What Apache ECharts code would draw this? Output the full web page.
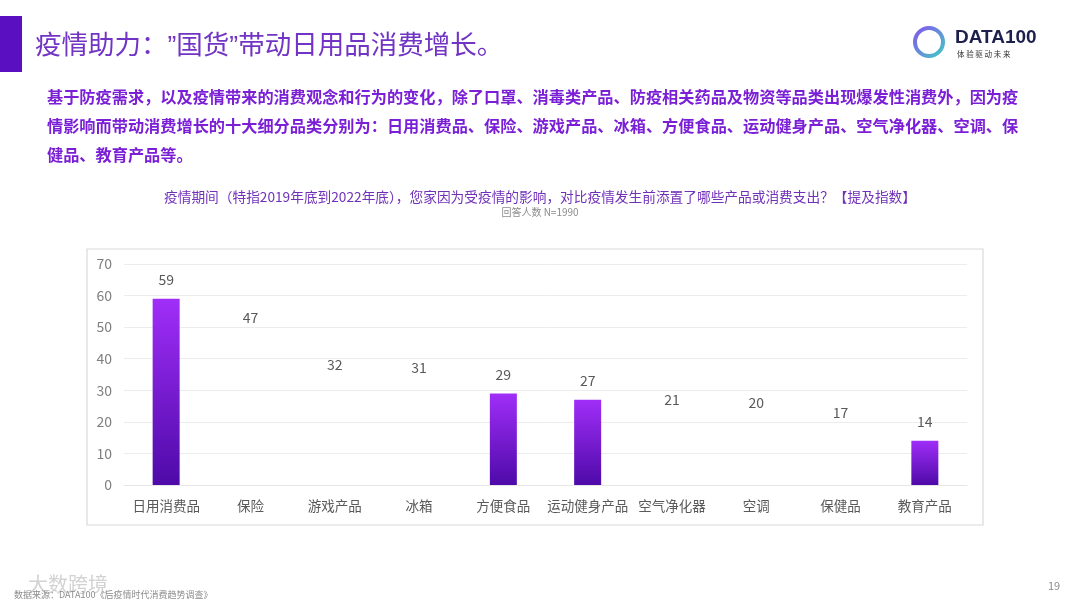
<!DOCTYPE html>
<html><head><meta charset="utf-8">
<script src="https://cdn.jsdelivr.net/npm/echarts@6/dist/echarts.min.js"></script>
<style>html,body{margin:0;padding:0;background:#fff}#c{width:1080px;height:608px}</style>
</head><body><div id="c"></div>
<script>
const categories = ['日用消费品','保险','游戏产品','冰箱','方便食品','运动健身产品','空气净化器','空调','保健品','教育产品'];
const values = [59,47,32,31,29,27,21,20,17,14];
const barShown = [true,false,false,false,true,true,false,false,false,true];
const yTicks = [0,10,20,30,40,50,60,70];

const font = '"Noto Sans CJK SC","Microsoft YaHei",sans-serif';
const chart = echarts.init(document.getElementById('c'));
const grad = new echarts.graphic.LinearGradient(0,0,0,1,[{offset:0,color:'#a02ef8'},{offset:1,color:'#4e0aa8'}]);
const line1 = '基于防疫需求，以及疫情带来的消费观念和行为的变化，除了口罩、消毒类产品、防疫相关药品及物资等品类出现爆发性消费外，因为疫';
const line2 = '情影响而带动消费增长的十大细分品类分别为：日用消费品、保险、游戏产品、冰箱、方便食品、运动健身产品、空气净化器、空调、保';
const line3 = '健品、教育产品等。';
chart.setOption({
  animation:false,
  textStyle:{fontFamily:font},
  graphic:[
    {type:'rect',shape:{x:0,y:16,width:22,height:56},style:{fill:'#5a0fc0'}},
    {type:'text',left:35,top:33,style:{text:'疫情助力：”国货”带动日用品消费增长。',font:'26.5px "Liberation Sans",'+font,fill:'#7134c4'}},
    {type:'text',left:47,top:89,style:{text:line1,font:'bold 16.2px '+font,fill:'#7a1fd6'}},
    {type:'text',left:47,top:118,style:{text:line2,font:'bold 16.2px '+font,fill:'#7a1fd6'}},
    {type:'text',left:47,top:147,style:{text:line3,font:'bold 16.2px '+font,fill:'#7a1fd6'}},
    {type:'text',left:'center',top:190,style:{text:'疫情期间（特指2019年底到2022年底），您家因为受疫情的影响，对比疫情发生前添置了哪些产品或消费支出？【提及指数】',font:'13.7px '+font,fill:'#7030b8'}},
    {type:'text',left:'center',top:207,style:{text:'回答人数 N=1990',font:'10px '+font,fill:'#8c8c8c'}},
    {type:'rect',shape:{x:87,y:249,width:896,height:276},style:{fill:'none',stroke:'#d9d9d9',lineWidth:1.2}},
    // logo
    {type:'circle',shape:{cx:929,cy:42,r:14},style:{fill:'none',stroke:new echarts.graphic.LinearGradient(0,0,1,1,[{offset:0,color:'#8a4df0'},{offset:1,color:'#3fd0c0'}]),lineWidth:4}},
    {type:'text',left:955,top:28,style:{text:'DATA100',font:'bold 19px "Liberation Sans",sans-serif',fill:'#1d1f4d'}},
    {type:'text',left:957,top:50,style:{text:'体 验 驱 动 未 来',font:'7.5px '+font,fill:'#333'}},
    // footer
    {type:'text',left:28,top:574,style:{text:'大数跨境',font:'20px '+font,fill:'rgba(180,180,180,0.6)'}},
    {type:'text',left:14,top:590,style:{text:'数据来源：DATA100《后疫情时代消费趋势调查》',font:'9px '+font,fill:'#8c8c8c'}},
    {type:'text',left:1048,top:580,style:{text:'19',font:'11px '+font,fill:'#8c8c8c'}}
  ],
  grid:{left:124,right:113,top:264,bottom:123},
  xAxis:{type:'category',data:categories,
    axisLine:{show:true,lineStyle:{color:'#e6e6e6'}},axisTick:{show:false},
    axisLabel:{color:'#595959',fontSize:13.5,margin:14,interval:0}},
  yAxis:{type:'value',min:0,max:70,interval:10,
    axisLine:{show:false},axisTick:{show:false},
    axisLabel:{color:'#7f7f7f',fontSize:14,margin:12,formatter:v=>yTicks.includes(v)?String(v):''},
    splitLine:{lineStyle:{color:'#ececec'}}},
  series:[{type:'bar',barWidth:27,
    data:values.map((v,i)=>({value:v,itemStyle:{color:barShown[i]?grad:'rgba(0,0,0,0)'}})),
    label:{show:true,position:'top',distance:12,color:'#595959',fontSize:14}}]
});
</script></body></html>
